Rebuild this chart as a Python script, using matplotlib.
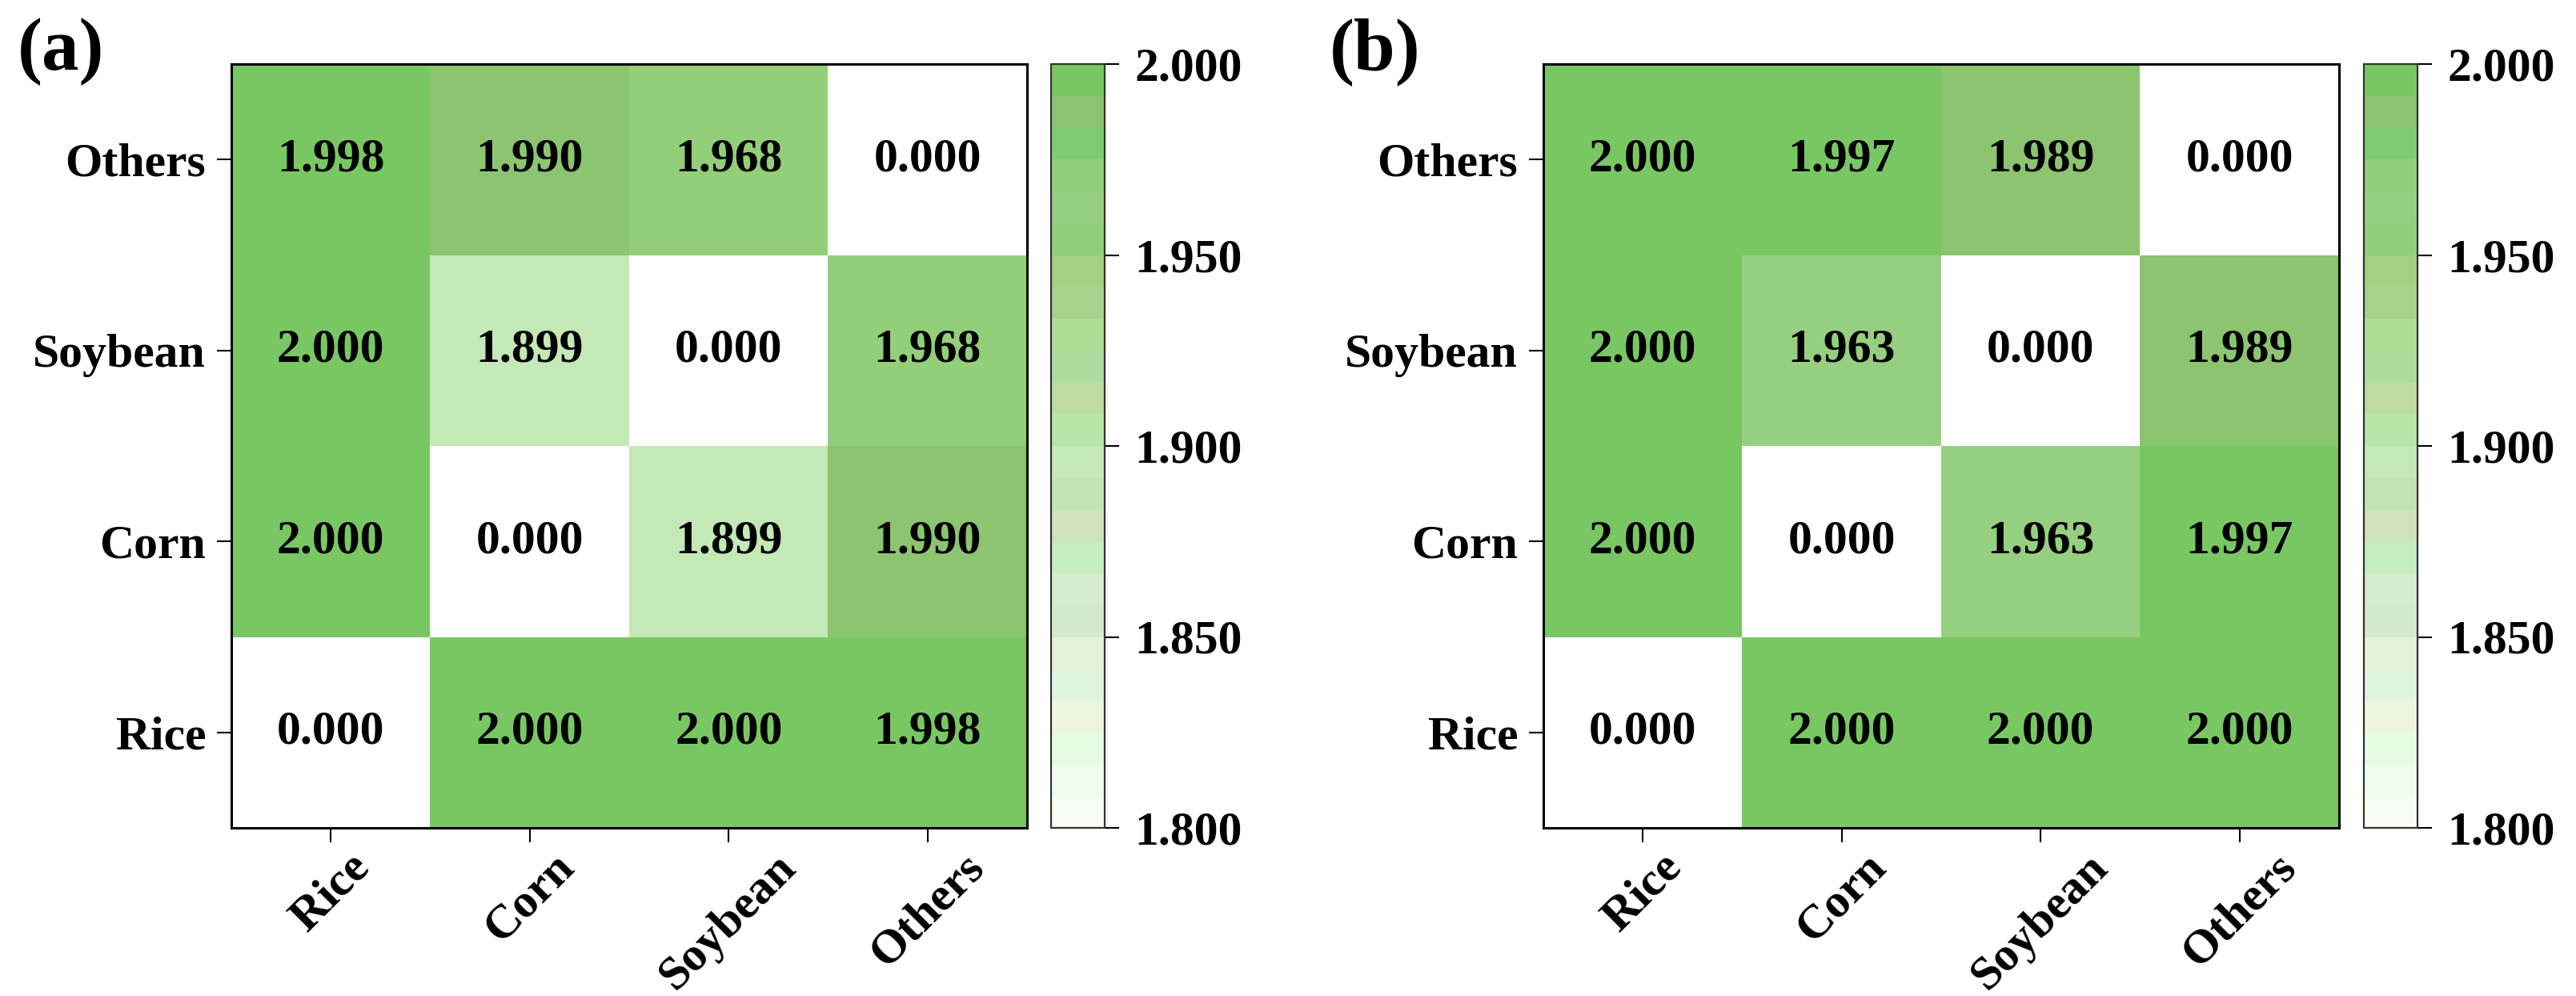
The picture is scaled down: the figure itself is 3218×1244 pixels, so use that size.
import numpy as np
import matplotlib
matplotlib.use('Agg')
import matplotlib.pyplot as plt
from matplotlib.colors import ListedColormap, Normalize

plt.rcParams['font.family'] = ['Liberation Serif', 'DejaVu Serif']
plt.rcParams['font.weight'] = 'bold'

crops = ['Rice', 'Corn', 'Soybean', 'Others']

# rows: Rice, Corn, Soybean, Others (Rice at the bottom)
vals_a = [[0.000, 2.000, 2.000, 1.998],
          [2.000, 0.000, 1.899, 1.990],
          [2.000, 1.899, 0.000, 1.968],
          [1.998, 1.990, 1.968, 0.000]]
vals_b = [[0.000, 2.000, 2.000, 2.000],
          [2.000, 0.000, 1.963, 1.997],
          [2.000, 1.963, 0.000, 1.989],
          [2.000, 1.997, 1.989, 0.000]]

cbar_ticks = [1.800, 1.850, 1.900, 1.950, 2.000]
panel_tags = ['(a)', '(b)']

# colour bands from 1.800 (first) to 2.000 (last)
band_colors = ['#F8FDF4', '#F0FDEB', '#E4FCE2', '#EEF5DF', '#DFF5DE', '#E3F4D6',
               '#D3EBCB', '#D5EDCC', '#C6EDC2', '#CFE2BA', '#C3E5B2', '#C5E8B7',
               '#B5E7A9', '#BEDBA3', '#ADDCA0', '#AEDD96', '#A5D38D', '#A1D181',
               '#92CE7C', '#96CF80', '#93CF78', '#7ECB73', '#8CC470', '#79C763']
cmap = ListedColormap(band_colors)
cmap.set_under('white')
norm = Normalize(vmin=1.8, vmax=2.0)

W, H = 3218, 1244
fig = plt.figure(figsize=(W / 100, H / 100), dpi=100)

fs = 43
ax_left = [289, 1928]
cb_left = [1313, 2953]
top, bottom = 80, 1034

for k, vals in enumerate([vals_a, vals_b]):
    data = np.array(vals)
    ax = fig.add_axes([ax_left[k] / W, (H - bottom) / H, 994 / W, (bottom - top) / H])
    im = ax.imshow(data, cmap=cmap, norm=norm, origin='lower', aspect='auto',
                   interpolation='nearest')
    for i in range(len(crops)):
        for j in range(len(crops)):
            ax.text(j, i, '%.3f' % data[i, j], ha='center', va='center',
                    fontsize=fs, fontweight='bold', color='black')
    ax.set_xticks(range(len(crops)))
    ax.set_yticks(range(len(crops)))
    ax.set_xticklabels(crops, rotation=45, fontsize=fs, fontweight='bold')
    ax.set_yticklabels(crops, fontsize=fs, fontweight='bold')
    ax.tick_params(length=13, width=1.5)
    ax.tick_params(axis='y', pad=10)
    ax.tick_params(axis='x', pad=3)
    for s in ax.spines.values():
        s.set_linewidth(2.2)

    cax = fig.add_axes([cb_left[k] / W, (H - bottom) / H, 67 / W, (bottom - top) / H])
    cb = fig.colorbar(im, cax=cax, ticks=cbar_ticks, format='%.3f')
    cb.outline.set_linewidth(1.6)
    cb.outline.set_edgecolor('#333333')
    cax.tick_params(length=13, width=1.5, pad=14, labelsize=fs)
    for t in cax.get_yticklabels():
        t.set_fontweight('bold')

    fig.text((22 + 1639 * k) / W, 1 - 22 / H, panel_tags[k], fontsize=67,
             fontweight='bold', ha='left', va='top')

fig.savefig('out.png', dpi=100)
